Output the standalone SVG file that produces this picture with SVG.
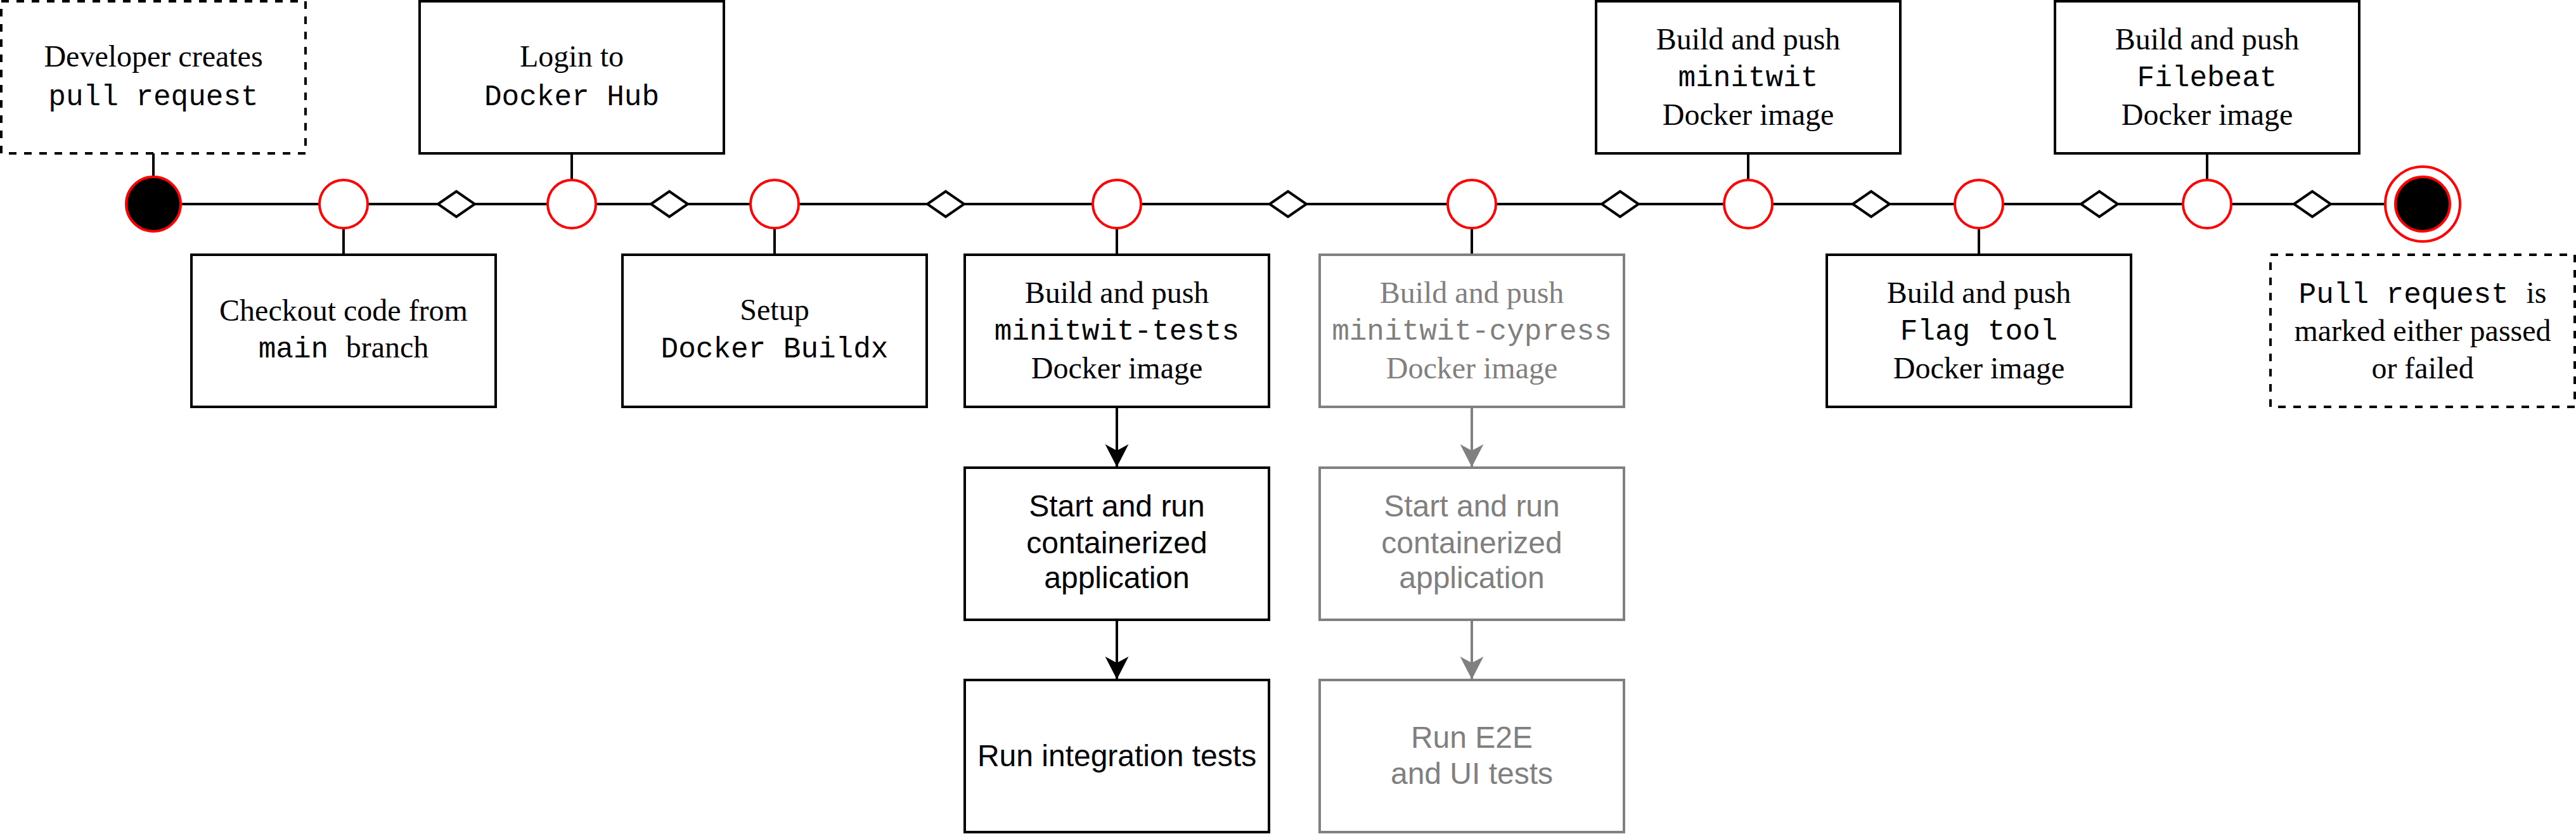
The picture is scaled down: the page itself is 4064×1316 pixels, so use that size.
<svg xmlns="http://www.w3.org/2000/svg" width="4064" height="1316" viewBox="0 0 4064 1316">
<style>
.box{fill:#fff;stroke:#000;stroke-width:4}
.dash{fill:#fff;stroke:#000;stroke-width:4;stroke-dasharray:12 12}
.gbox{fill:#fff;stroke:#808080;stroke-width:4}
.red{fill:#fff;stroke:#f00;stroke-width:4}
.redk{fill:#000;stroke:#f00;stroke-width:4}
.ln{fill:none;stroke:#000;stroke-width:4}
.gln{fill:none;stroke:#808080;stroke-width:4}
.main{marker-mid:url(#dia)}
text{text-anchor:middle;fill:#000}
.s{font-family:"Liberation Serif","Times New Roman",serif;font-size:48px}
.m{font-family:"Liberation Mono","Courier New",monospace;font-size:46px}
.a{font-family:"Liberation Sans",Arial,sans-serif;font-size:48px}
.g{fill:#808080}
</style>
<defs>
<marker id="dia" markerUnits="userSpaceOnUse" markerWidth="70" markerHeight="50" viewBox="-35 -25 70 50" refX="0" refY="0" orient="auto">
<polygon points="-29,0 0,-20 29,0 0,20" fill="#fff" stroke="#000" stroke-width="4"/>
</marker>
<marker id="arr" markerUnits="userSpaceOnUse" markerWidth="40" markerHeight="40" viewBox="0 0 40 40" refX="36" refY="18.5" orient="auto">
<path d="M0,0 L36,18.5 L0,37 L10,18.5 Z" fill="#000"/>
</marker>
<marker id="garr" markerUnits="userSpaceOnUse" markerWidth="40" markerHeight="40" viewBox="0 0 40 40" refX="36" refY="18.5" orient="auto">
<path d="M0,0 L36,18.5 L0,37 L10,18.5 Z" fill="#808080"/>
</marker>
</defs>

<g id="connectors">
<path class="ln" d="M285,322 L504,322"/>
<path class="ln main" d="M580,322 L720,322 L864,322"/>
<path class="ln main" d="M940,322 L1056,322 L1184,322"/>
<path class="ln main" d="M1260,322 L1492,322 L1724,322"/>
<path class="ln main" d="M1800,322 L2032,322 L2284,322"/>
<path class="ln main" d="M2360,322 L2556,322 L2720,322"/>
<path class="ln main" d="M2796,322 L2952,322 L3084,322"/>
<path class="ln main" d="M3160,322 L3312,322 L3444,322"/>
<path class="ln main" d="M3520,322 L3648,322 L3762,322"/>
<path class="ln" d="M242,242 V279"/>
<path class="ln" d="M902,242 V284"/>
<path class="ln" d="M2758,242 V284"/>
<path class="ln" d="M3482,242 V284"/>
<path class="ln" d="M542,360 V402"/>
<path class="ln" d="M1222,360 V402"/>
<path class="ln" d="M1762,360 V402"/>
<path class="ln" d="M2322,360 V402"/>
<path class="ln" d="M3122,360 V402"/>
<path class="ln" d="M1762,642 V737" marker-end="url(#arr)"/>
<path class="ln" d="M1762,978 V1072" marker-end="url(#arr)"/>
<path class="gln" d="M2322,642 V737" marker-end="url(#garr)"/>
<path class="gln" d="M2322,978 V1072" marker-end="url(#garr)"/>
</g>

<g id="start"><circle class="redk" cx="242" cy="322" r="43"/></g>
<g id="c1"><circle class="red" cx="542" cy="322" r="38"/></g>
<g id="c2"><circle class="red" cx="902" cy="322" r="38"/></g>
<g id="c3"><circle class="red" cx="1222" cy="322" r="38"/></g>
<g id="c4"><circle class="red" cx="1762" cy="322" r="38"/></g>
<g id="c5"><circle class="red" cx="2322" cy="322" r="38"/></g>
<g id="c6"><circle class="red" cx="2758" cy="322" r="38"/></g>
<g id="c7"><circle class="red" cx="3122" cy="322" r="38"/></g>
<g id="c8"><circle class="red" cx="3482" cy="322" r="38"/></g>
<g id="end"><circle class="red" cx="3822" cy="322" r="59"/><circle class="redk" cx="3822" cy="322" r="43"/></g>

<g id="dev">
<rect class="dash" x="2" y="2" width="480" height="240"/>
<text class="s" x="242" y="105">Developer creates</text>
<text class="m" x="242" y="166">pull request</text>
</g>
<g id="login">
<rect class="box" x="662" y="2" width="480" height="240"/>
<text class="s" x="902" y="105">Login to</text>
<text class="m" x="902" y="166">Docker Hub</text>
</g>
<g id="minitwit">
<rect class="box" x="2518" y="2" width="480" height="240"/>
<text class="s" x="2758" y="78">Build and push</text>
<text class="m" x="2758" y="136">minitwit</text>
<text class="s" x="2758" y="197">Docker image</text>
</g>
<g id="filebeat">
<rect class="box" x="3242" y="2" width="480" height="240"/>
<text class="s" x="3482" y="78">Build and push</text>
<text class="m" x="3482" y="136">Filebeat</text>
<text class="s" x="3482" y="197">Docker image</text>
</g>
<g id="checkout">
<rect class="box" x="302" y="402" width="480" height="240"/>
<text class="s" x="542" y="506">Checkout code from</text>
<text class="s" x="542" y="564"><tspan class="m" xml:space="preserve">main </tspan>branch</text>
</g>
<g id="setup">
<rect class="box" x="982" y="402" width="480" height="240"/>
<text class="s" x="1222" y="505">Setup</text>
<text class="m" x="1222" y="564">Docker Buildx</text>
</g>
<g id="tests">
<rect class="box" x="1522" y="402" width="480" height="240"/>
<text class="s" x="1762" y="478">Build and push</text>
<text class="m" x="1762" y="536">minitwit-tests</text>
<text class="s" x="1762" y="597">Docker image</text>
</g>
<g id="cypress">
<rect class="gbox" x="2082" y="402" width="480" height="240"/>
<text class="s g" x="2322" y="478">Build and push</text>
<text class="m g" x="2322" y="536">minitwit-cypress</text>
<text class="s g" x="2322" y="597">Docker image</text>
</g>
<g id="flag">
<rect class="box" x="2882" y="402" width="480" height="240"/>
<text class="s" x="3122" y="478">Build and push</text>
<text class="m" x="3122" y="536">Flag tool</text>
<text class="s" x="3122" y="597">Docker image</text>
</g>
<g id="result">
<rect class="dash" x="3582" y="402" width="480" height="240"/>
<text class="s" x="3822" y="478"><tspan class="m" xml:space="preserve">Pull request </tspan>is</text>
<text class="s" x="3822" y="538">marked either passed</text>
<text class="s" x="3822" y="597">or failed</text>
</g>
<g id="startapp">
<rect class="box" x="1522" y="738" width="480" height="240"/>
<text class="a" x="1762" y="815">Start and run</text>
<text class="a" x="1762" y="873">containerized</text>
<text class="a" x="1762" y="928">application</text>
</g>
<g id="integration">
<rect class="box" x="1522" y="1073" width="480" height="240"/>
<text class="a" x="1762" y="1209">Run integration tests</text>
</g>
<g id="startapp2">
<rect class="gbox" x="2082" y="738" width="480" height="240"/>
<text class="a g" x="2322" y="815">Start and run</text>
<text class="a g" x="2322" y="873">containerized</text>
<text class="a g" x="2322" y="928">application</text>
</g>
<g id="e2e">
<rect class="gbox" x="2082" y="1073" width="480" height="240"/>
<text class="a g" x="2322" y="1180">Run E2E</text>
<text class="a g" x="2322" y="1237">and UI tests</text>
</g>
</svg>
